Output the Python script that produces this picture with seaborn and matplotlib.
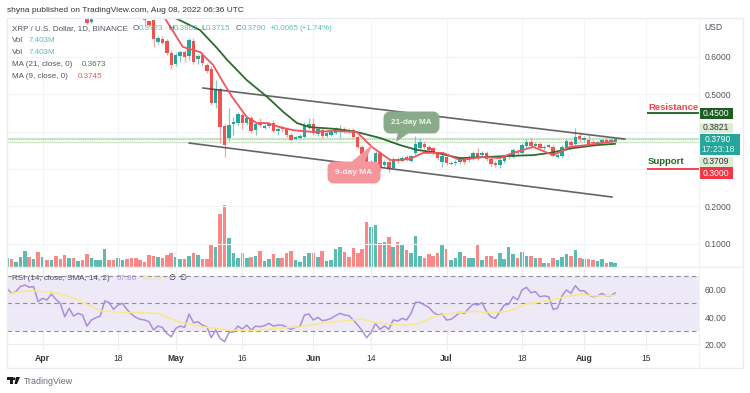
import matplotlib
matplotlib.use("Agg")
import matplotlib.pyplot as plt
from matplotlib.patches import FancyBboxPatch, Polygon, Circle, Rectangle
import numpy as np
import pandas as pd
import seaborn as sns

# daily candles, day 0 = Mar 24 2022, day 137 = Aug 8 2022
opens = [.80,.81,.80,.81,.82,.84,.83,.84,.82,.83, .82,.83,.81,.80,.77,.78,.76,.77,.71,.693,
         .706,.72,.73,.78,.76,.75,.76,.77,.76,.75, .74,.705,.696,.699,.640,.648,.643,.611,.581,.603,
         .613,.603,.643,.595,.605,.579,.568,.477,.514,.415, .383,.420,.423,.445,.423,.437,.404,.423,.410,.415,
         .423,.402,.412,.407,.391,.380,.383,.386,.412,.420, .394,.404,.388,.391,.396,.402,.407,.404,.404,.386,
         .359,.345,.303,.303,.343,.311,.319,.303,.327,.321, .332,.321,.343,.356,.367,.359,.356,.343,.319,.332,
         .313,.316,.319,.329,.324,.329,.343,.337,.343,.327, .316,.311,.321,.332,.332,.348,.343,.361,.372,.361,
         .367,.356,.364,.359,.332,.335,.356,.372,.367,.388, .378,.378,.372,.370,.372,.378,.372,.3723]
highs = [.82,.82,.82,.83,.85,.85,.85,.85,.84,.84, .84,.84,.82,.81,.79,.79,.78,.78,.72,.71,
         .73,.74,.79,.79,.77,.77,.78,.78,.77,.76, .75,.710,.699,.702,.656,.656,.648,.619,.611,.619,
         .619,.651,.651,.608,.613,.584,.576,.538,.520,.420, .463,.439,.453,.450,.442,.442,.426,.437,.420,.426,
         .431,.412,.418,.412,.396,.388,.394,.426,.437,.437, .412,.410,.402,.404,.412,.418,.412,.410,.410,.391,
         .364,.351,.324,.348,.348,.324,.324,.332,.332,.335, .337,.337,.388,.383,.375,.364,.359,.348,.345,.337,
         .321,.324,.335,.332,.337,.348,.356,.348,.348,.332, .321,.329,.337,.343,.356,.353,.370,.380,.383,.372,
         .372,.364,.367,.364,.343,.364,.380,.378,.410,.399, .388,.394,.378,.375,.380,.383,.383,.3802]
lows = [.79,.79,.79,.80,.81,.82,.82,.81,.81,.81, .81,.80,.79,.76,.76,.75,.75,.715,.688,.69,
        .706,.715,.72,.75,.74,.74,.75,.75,.74,.73, .715,.680,.680,.627,.635,.635,.605,.568,.576,.587,
        .587,.592,.581,.581,.576,.557,.471,.463,.370,.332, .375,.391,.418,.407,.418,.396,.391,.412,.407,.410,
        .399,.391,.402,.386,.375,.378,.380,.383,.407,.391, .388,.383,.386,.388,.394,.383,.396,.396,.383,.356,
        .335,.297,.297,.297,.295,.305,.292,.300,.316,.319, .321,.319,.337,.351,.353,.345,.337,.324,.305,.311,
        .311,.311,.313,.313,.319,.324,.324,.332,.321,.308, .305,.303,.316,.327,.329,.337,.340,.356,.356,.356,
        .351,.351,.356,.332,.329,.329,.351,.359,.364,.372, .372,.364,.364,.367,.370,.370,.370,.3715]
closes = [.81,.80,.81,.82,.84,.83,.84,.82,.83,.82, .83,.81,.80,.77,.78,.76,.77,.72,.692,.704,
          .72,.73,.78,.76,.75,.76,.77,.76,.75,.74, .72,.699,.686,.648,.651,.638,.611,.579,.605,.613,
          .600,.646,.587,.603,.584,.562,.477,.514,.412,.364, .418,.426,.447,.423,.437,.402,.420,.418,.415,.420,
          .402,.407,.407,.391,.378,.386,.388,.418,.420,.396, .407,.388,.396,.399,.407,.407,.402,.402,.386,.359,
          .340,.303,.319,.343,.303,.319,.300,.327,.321,.329, .324,.335,.367,.372,.359,.351,.343,.329,.335,.316,
          .316,.319,.329,.319,.332,.343,.332,.343,.327,.313, .311,.324,.332,.337,.351,.343,.364,.372,.361,.367,
          .356,.359,.359,.335,.337,.359,.375,.364,.386,.380, .383,.367,.370,.372,.378,.372,.378,.3790]

# volume
volumes = [27,24,15,30,47,30,24,45,30,22, 22,32,24,36,28,28,18,22,39,28,
           22,22,55,22,20,26,22,24,26,28, 20,16,35,33,30,26,35,41,30,24,
           24,32,43,36,24,24,66,61,160,187, 88,43,28,41,28,31,34,49,19,24,
           39,26,28,43,49,20,15,32,41,41, 30,47,18,20,55,61,45,30,57,43,
           53,135,120,126,72,74,91,60,74,70, 51,43,93,32,26,39,34,41,65,55,
           22,28,45,32,26,28,66,20,32,32, 24,41,24,61,39,26,45,32,32,26,
           26,13,13,26,22,30,39,32,51,26, 24,24,22,17,24,13,16,11]

rsi_values = [61.2,57.5,58.8,62.5,63.7,62,62.5,51.4,53.8,52.6, 57,53.1,50.1,40.2,46.4,40.7,42.7,41.5,33.3,37.8,
              39.5,40.7,51.9,50.6,45.7,48.9,50.1,45.7,42.2,39.8, 38.3,37.8,36.5,30.4,33.3,32.3,27.9,25.4,31.6,33.3,
              32.3,42.2,35.8,36.5,34,32.8,24.7,30.4,24.2,21.7, 28.6,29.1,33.3,31.1,34,30.4,33.3,32.8,33.6,35.3,
              33.3,34,34,32.3,30.9,32.3,33.3,41.5,42.2,37.8, 39.8,37.3,37.8,39,41,42.7,41.5,41,37.8,34,
              29.9,24.7,28.6,35.3,30.9,33.3,31.1,37.8,37,39, 37.8,42.7,50.9,50.9,48.9,47.2,43.5,41.5,42.2,37.8,
              38.3,40.7,43.5,42.7,46.4,49.6,48.9,50.6,44,40.2, 39,44,48.9,49.4,55,52.6,60,62,58,58.8,
              55,55.6,55,45.7,46.4,55.6,60,57.5,63.2,59.5, 59.3,56.3,55,55.6,57.5,55.6,55.8,57.86]

sma_days = [0,3,6,11,16,21,26,34,39,44,50,56,61,66,71,76,80,83,87,90,93,96,99,105,109,113,117,123,127,130,132,135,137]
sma_values = [57,58.8,59.5,58,52.6,44.7,43.5,42.7,36,32.8,30.4,29.9,31.6,32.8,35.3,37.3,38.5,35.8,34.6,33.8,35.3,
              40.2,42.2,44.2,43.2,44.2,49.6,52.6,56,56.8,55.6,55.8,56.19]

ma9_days = [35.5,39.6,43.5,46.4,48.4,50.7,54,56.3,58.6,61.5,64.4,69,73.4,78.8,82.2,86.3,88.5,90.8,93.7,98.2,102,
            107.2,111,114,118.5,123,126.8,130.6,137]
ma9_values = [.705,.627,.613,.579,.538,.493,.439,.423,.423,.412,.404,.399,.402,.399,.359,.324,.324,.327,.343,.343,.324,
              .332,.329,.343,.359,.337,.359,.364,.3745]
ma21_days = [37.8,43.5,47.3,49.6,54,58.6,62.2,65.3,68.2,74.3,78.8,84,88.5,92.3,96,102,108,113.3,118.5,122.3,127.5,132.9,137]
ma21_values = [.705,.672,.624,.592,.538,.493,.453,.423,.412,.407,.399,.383,.364,.351,.345,.329,.332,.335,.337,.343,
               .356,.364,.3673]

upper_days, upper_prices = [44.1, 139.2], [.5169, .380]
lower_days, lower_prices = [41, 136.3], [.3694, .2247]

tick_days = [8, 25, 38, 53, 69, 82, 99, 116, 130, 144]
tick_labels = ["Apr", "18", "May", "16", "Jun", "14", "Jul", "18", "Aug", "15"]
month_labels = ["Apr", "May", "Jun", "Jul", "Aug"]

price_ticks = [0.1, 0.2, 0.3, 0.4, 0.5, 0.6]
price_tick_labels = ["0.1000", "0.2000", "", "", "0.5000", "0.6000"]

TEAL = "#26a69a"
RED = "#ef5350"
GREY = "#50535e"
GRID = "#f3f4f7"
LEGEND_SIZE = 5.8
AXIS_SIZE = 6.2

sns.set_theme(style="white")
plt.rcParams["font.family"] = ["Liberation Sans", "DejaVu Sans"]
plt.rcParams["font.size"] = AXIS_SIZE

fig = plt.figure(figsize=(7.5, 3.93), dpi=100, facecolor="white")


def box(left, top, right, bottom):
    return [left / 750, 1 - bottom / 393, (right - left) / 750, (bottom - top) / 393]


xlim = (0, 155.86)
df = pd.DataFrame({"day": range(len(closes)), "open": opens, "high": highs, "low": lows,
                   "close": closes, "volume": volumes, "rsi": rsi_values})
df["dir"] = np.where(df["close"] >= df["open"], "up", "down")
df["body"] = (df["close"] - df["open"]).abs()
df["base"] = df[["open", "close"]].min(axis=1)

# volume sits behind the price pane
ax_vol = fig.add_axes(box(7, 18, 699, 267), zorder=0)
sns.barplot(data=df, x="day", y="volume", hue="dir", palette={"up": "#5dbcb1", "down": "#f98886"},
            native_scale=True, dodge=False, width=0.8, saturation=1, legend=False, linewidth=0, ax=ax_vol)
ax_vol.set_xlim(xlim)
ax_vol.set_ylim(0, 747)
ax_vol.set(xlabel="", ylabel="", xticks=[], yticks=[])
sns.despine(ax=ax_vol, left=True, bottom=True)

ax = fig.add_axes(box(7, 18, 699, 267), zorder=1)
ax.patch.set_alpha(0)
ax.set_xlim(xlim)
ax.set_ylim(0.0372, 0.7045)
ax.set_xticks(tick_days)
ax.set_yticks(price_ticks)
ax.set_yticklabels(price_tick_labels)
ax.grid(True, color=GRID, linewidth=0.8)
ax.set_axisbelow(True)
ax.tick_params(left=False, bottom=False, labelbottom=False, labelleft=False, right=False, labelright=True,
               labelsize=AXIS_SIZE, labelcolor=GREY, length=0, pad=4)
sns.despine(ax=ax, left=True, bottom=True, right=True, top=True)

# levels
ax.axhline(0.3821, color="#cfe6c8", linewidth=1)
ax.axhline(0.3709, color="#cfe6c8", linewidth=1)
ax.axhline(0.3790, color="#7fcfc5", linewidth=0.8, linestyle=(0, (1, 1)))
ax.hlines(0.45, 144.2, 155.86, color="#1b5e20", linewidth=1.3)
ax.hlines(0.30, 144.2, 155.86, color="#f23645", linewidth=1.3)

for _, part in df.groupby("dir"):
    colour = TEAL if part["dir"].iloc[0] == "up" else RED
    soft = "#82cdc5" if colour == TEAL else "#f7a5a3"
    ax.vlines(part["day"], part["low"], part["high"], color=soft, linewidth=0.9, zorder=2)
    ax.bar(part["day"], part["body"].clip(lower=0.002), bottom=part["base"], width=0.78, color=colour,
           linewidth=0, zorder=3)

sns.lineplot(x=upper_days, y=upper_prices, color="#4a4a4a", linewidth=1.2, alpha=0.85, ax=ax, zorder=4)
sns.lineplot(x=lower_days, y=lower_prices, color="#4a4a4a", linewidth=1.2, alpha=0.85, ax=ax, zorder=4)
sns.lineplot(x=ma21_days, y=ma21_values, color="#2e6b30", linewidth=1.3, ax=ax, zorder=5)
sns.lineplot(x=ma9_days, y=ma9_values, color="#f2545b", linewidth=1.3, ax=ax, zorder=6)
ax.set(xlabel="", ylabel="")

# rsi pane
ax_rsi = fig.add_axes(box(7, 267, 699, 350), zorder=1)
ax_rsi.set_xlim(xlim)
ax_rsi.set_ylim(15.6, 77)
ax_rsi.axhspan(30, 70, color="#ede9f7", linewidth=0)
for level in [70, 50, 30]:
    ax_rsi.axhline(level, color="#8f8d99", linewidth=0.8, linestyle=(0, (4, 3)))
sns.lineplot(data=df, x="day", y="rsi", color="#a98fdc", linewidth=1.1, ax=ax_rsi, zorder=4)
sns.lineplot(x=sma_days, y=sma_values, color="#fbe885", linewidth=1.1, ax=ax_rsi, zorder=5)
ax_rsi.set(xlabel="", ylabel="")
ax_rsi.set_yticks([20, 40, 60])
ax_rsi.set_yticklabels(["20.00", "40.00", "60.00"])
ax_rsi.set_xticks(tick_days)
ax_rsi.set_xticklabels(tick_labels)
ax_rsi.grid(True, color="#ecebf2", linewidth=0.8)
ax_rsi.set_axisbelow(True)
ax_rsi.patch.set_alpha(0)
ax_rsi.tick_params(left=False, bottom=False, right=False, labelleft=False, labelright=True,
                   labelsize=AXIS_SIZE, labelcolor=GREY, length=0, pad=4)
ax_rsi.tick_params(axis="x", pad=3, labelcolor="#333333")
for label in ax_rsi.get_xticklabels():
    if label.get_text() in month_labels:
        label.set_fontweight("bold")
sns.despine(ax=ax_rsi, left=True, bottom=True, right=True, top=True)

# header, price boxes, callouts: drawn in picture pixels on an overlay
over = fig.add_axes([0, 0, 1, 1], zorder=10)
over.set_xlim(0, 750)
over.set_ylim(393, 0)
over.axis("off")

over.add_patch(Rectangle((7, 18), 736, 350, fill=False, edgecolor="#e9ebf1", linewidth=1))
over.plot([7, 743], [267, 267], color="#eceef3", linewidth=1)
over.plot([699, 699], [18, 368], color="#f1f2f6", linewidth=0.8)

over.text(7, 10, "shyna published on TradingView.com, Aug 08, 2022 06:36 UTC", fontsize=6.05, color="#333333", va="center")

parts = [(12, "XRP / U.S. Dollar, 1D, BINANCE", GREY), (133, "O", GREY), (139, "0.3723", "#5cc0b5"),
         (168, "H", GREY), (174, "0.3802", "#5cc0b5"), (201, "L", GREY), (206, "0.3715", "#5cc0b5"),
         (236, "C", GREY), (242, "0.3790", "#5cc0b5"), (270, "+0.0065", "#5cc0b5"), (299, "(+1.74%)", "#5cc0b5")]
for x, s, c in parts:
    over.text(x, 29, s, fontsize=LEGEND_SIZE, color=c, va="center")
over.text(12, 41, "Vol", fontsize=LEGEND_SIZE, color=GREY, va="center")
over.text(29, 41, "7.403M", fontsize=LEGEND_SIZE, color="#5cc0b5", va="center")
over.text(12, 53, "Vol", fontsize=LEGEND_SIZE, color=GREY, va="center")
over.text(29, 53, "7.403M", fontsize=LEGEND_SIZE, color="#5cc0b5", va="center")
over.text(12, 65, "MA (21, close, 0)", fontsize=LEGEND_SIZE, color=GREY, va="center")
over.text(82, 65, "0.3673", fontsize=LEGEND_SIZE, color="#3f7f42", va="center")
over.text(12, 77, "MA (9, close, 0)", fontsize=LEGEND_SIZE, color=GREY, va="center")
over.text(78, 77, "0.3745", fontsize=LEGEND_SIZE, color="#f2545b", va="center")

over.text(12, 278, "RSI (14, close, SMA, 14, 2)", fontsize=LEGEND_SIZE, color=GREY, va="center")
over.text(117, 278, "57.86", fontsize=LEGEND_SIZE, color="#a98fdc", va="center")
over.text(142, 278, "56.19", fontsize=LEGEND_SIZE, color="#f7e58a", va="center")
over.text(168, 278, "∅", fontsize=LEGEND_SIZE, color="#333333", va="center")
over.text(179, 278, "∅", fontsize=LEGEND_SIZE, color="#333333", va="center")

over.text(704, 28, "USD", fontsize=AXIS_SIZE, color=GREY, va="center")

price_boxes = [(108, 119, 733, "#1b5e20", "0.4500", "white"), (123, 133, 733, "#dcecd5", "0.3821", "#333333"),
               (157, 167, 733, "#dcecd5", "0.3709", "#333333"), (167, 179, 733, "#f23645", "0.3000", "white")]
for top, bottom, right, face, s, c in price_boxes:
    over.add_patch(Rectangle((699, top), right - 699, bottom - top, facecolor=face, edgecolor="none"))
    over.text(716, (top + bottom) / 2, s, fontsize=AXIS_SIZE, color=c, ha="center", va="center")
over.add_patch(Rectangle((699, 134), 41, 21, facecolor=TEAL, edgecolor="none"))
over.text(718, 140, "0.3790", fontsize=AXIS_SIZE, color="white", ha="center", va="center")
over.text(718, 150, "17:23:18", fontsize=AXIS_SIZE, color="#d8f2ee", ha="center", va="center")

over.text(648, 108, "Resistance", fontsize=6.8, fontweight="bold", color="#f2454d", va="center")
over.text(648, 162, "Support", fontsize=6.8, fontweight="bold", color="#1f6b25", va="center")

# callouts
over.add_patch(Polygon([(398, 132), (410, 132), (396, 142)], facecolor="#8aab8a", edgecolor="none"))
over.add_patch(FancyBboxPatch((387, 115), 49, 15, boxstyle="round,pad=0,rounding_size=3", mutation_aspect=1,
                              facecolor="#8aab8a", edgecolor="#8aab8a", linewidth=5))
over.text(411.5, 122.5, "21-day MA", fontsize=5.9, fontweight="bold", color="#eef4ee", ha="center", va="center")
over.add_patch(Polygon([(350, 163), (364, 163), (373, 144)], facecolor="#f5969d", edgecolor="none"))
over.add_patch(FancyBboxPatch((331, 165), 46, 15, boxstyle="round,pad=0,rounding_size=3", mutation_aspect=1,
                              facecolor="#f5969d", edgecolor="#f5969d", linewidth=5))
over.text(354, 172.5, "9-day MA", fontsize=6, fontweight="bold", color="#fdeced", ha="center", va="center")

# logo
over.add_patch(Polygon([(7, 377), (12.5, 377), (12.5, 384), (10, 384), (10, 380), (7, 380)], facecolor="#1c1c1c", edgecolor="none"))
over.add_patch(Circle((14, 378.8), 1.4, facecolor="#1c1c1c", edgecolor="none"))
over.add_patch(Polygon([(16, 377), (20, 377), (17, 384), (14.5, 384)], facecolor="#1c1c1c", edgecolor="none"))
over.text(24, 381, "TradingView", fontsize=6.4, color="#6a6d78", va="center")

fig.savefig("out.png", dpi=100, facecolor="white")
